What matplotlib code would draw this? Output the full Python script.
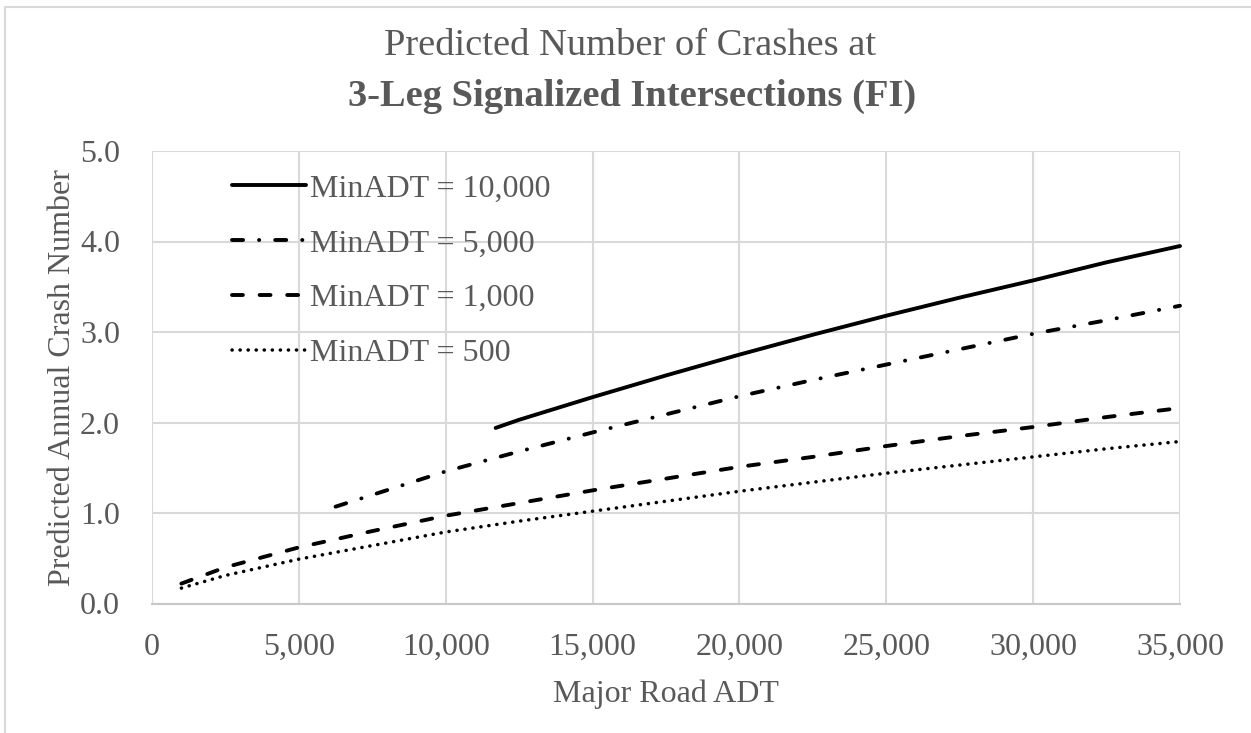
import matplotlib
matplotlib.use("Agg")
import matplotlib.pyplot as plt
from matplotlib.patches import Rectangle

# Major road ADT values and predicted annual FI crashes per minor-road ADT level
adt_10000 = [11700, 12500, 15000, 17500, 20000, 22500, 25000, 27500, 30000, 32500, 35000]
crash_10000 = [1.94, 2.03, 2.28, 2.52, 2.75, 2.97, 3.18, 3.38, 3.57, 3.77, 3.95]

adt_5000 = [6250, 7500, 10000, 12500, 15000, 17500, 20000, 22500, 25000, 27500, 30000, 32500, 35000]
crash_5000 = [1.07, 1.20, 1.46, 1.68, 1.89, 2.09, 2.29, 2.47, 2.64, 2.81, 2.98, 3.13, 3.29]

adt_1000 = [1000, 2500, 5000, 7500, 10000, 12500, 15000, 17500, 20000, 22500, 25000, 27500, 30000, 32500, 35000]
crash_1000 = [0.22, 0.40, 0.62, 0.80, 0.97, 1.11, 1.25, 1.38, 1.51, 1.62, 1.74, 1.85, 1.95, 2.06, 2.16]

adt_500 = [1000, 2500, 5000, 7500, 10000, 12500, 15000, 17500, 20000, 22500, 25000, 27500, 30000, 32500, 35000]
crash_500 = [0.17, 0.31, 0.49, 0.64, 0.79, 0.91, 1.02, 1.13, 1.24, 1.34, 1.44, 1.53, 1.62, 1.71, 1.79]

series_labels = ["MinADT = 10,000", "MinADT = 5,000", "MinADT = 1,000", "MinADT = 500"]

x_ticks = [0, 5000, 10000, 15000, 20000, 25000, 30000, 35000]
x_tick_labels = ["0", "5,000", "10,000", "15,000", "20,000", "25,000", "30,000", "35,000"]
y_ticks = [0.0, 1.0, 2.0, 3.0, 4.0, 5.0]
y_tick_labels = ["0.0", "1.0", "2.0", "3.0", "4.0", "5.0"]

TEXT = "#595959"
GRID = "#d9d9d9"
plt.rcParams["font.family"] = ["Liberation Serif", "DejaVu Serif"]

fig = plt.figure(figsize=(12.51, 7.33), dpi=100)
fig.patch.set_facecolor("white")

# outer chart border
fig.add_artist(Rectangle((5 / 1251, -0.05), 1.2, 1 - 7 / 733 + 0.05,
                         transform=fig.transFigure, fill=False,
                         edgecolor=GRID, linewidth=1.5))

ax = fig.add_axes([152 / 1251, 1 - 603.5 / 733, (1180 - 152) / 1251, (603.5 - 151) / 733])

lw = 2.8
ax.plot(adt_10000, crash_10000, color="black", lw=lw, solid_capstyle="round",
        label=series_labels[0], clip_on=False)
ax.plot(adt_5000, crash_5000, color="black", lw=lw, dashes=(2.85, 4.1, 0.05, 4.1),
        dash_capstyle="round", label=series_labels[1], clip_on=False)
ax.plot(adt_1000, crash_1000, color="black", lw=lw, dashes=(2.8, 4.3),
        dash_capstyle="round", label=series_labels[2], clip_on=False)
ax.plot(adt_500, crash_500, color="black", lw=lw * 0.9, dashes=(0.05, 2.25),
        dash_capstyle="round", label=series_labels[3], clip_on=False)

ax.set_xlim(0, 35000)
ax.set_ylim(0, 5)
ax.set_xticks(x_ticks)
ax.set_xticklabels(x_tick_labels)
ax.set_yticks(y_ticks)
ax.set_yticklabels(y_tick_labels)
ax.tick_params(axis="both", length=0, labelsize=23, colors=TEXT)
ax.tick_params(axis="x", pad=21)
ax.tick_params(axis="y", pad=23)

ax.grid(True, color=GRID, linewidth=1.5)
ax.set_axisbelow(True)
for side in ["top", "right", "left"]:
    ax.spines[side].set_visible(False)
ax.spines["bottom"].set_color("#c8c8c8")
ax.spines["bottom"].set_linewidth(1.5)

ax.set_xlabel("Major Road ADT", fontsize=23, color=TEXT, labelpad=13)
ax.set_ylabel("Predicted Annual Crash Number", fontsize=23, color=TEXT, labelpad=2)

leg = ax.legend(loc="upper left", bbox_to_anchor=(0.078, 0.949), frameon=False,
                fontsize=23, handlelength=2.3, handletextpad=0.15,
                labelspacing=0.8, borderaxespad=0, borderpad=0)
for t in leg.get_texts():
    t.set_color(TEXT)

fig.text(0.504, 1 - 46 / 733, "Predicted Number of Crashes at", ha="center", va="center",
         fontsize=27.7, color=TEXT)
fig.text(0.505, 1 - 96 / 733, "3-Leg Signalized Intersections (FI)", ha="center", va="center",
         fontsize=27.7, color=TEXT, fontweight="bold")

fig.savefig("out.png", dpi=100, facecolor="white")
